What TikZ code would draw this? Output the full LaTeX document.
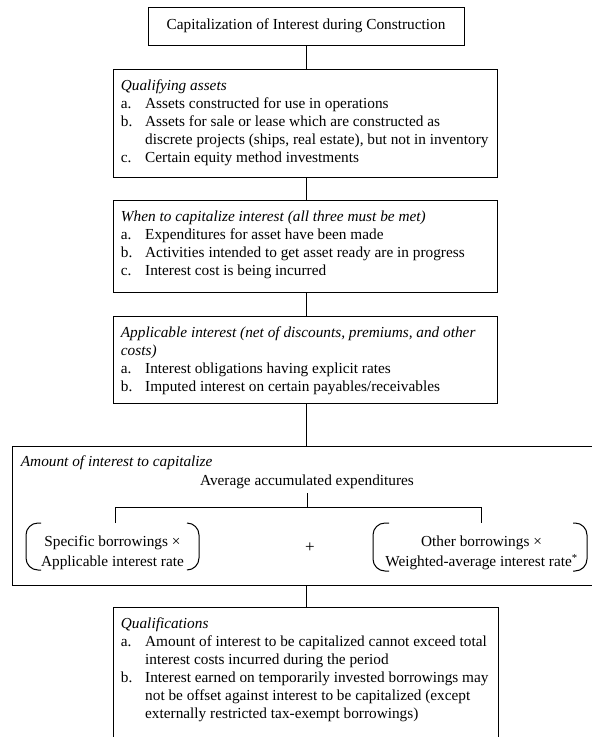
\documentclass[tikz,border=0pt]{standalone}
\usepackage{fontspec}
\setmainfont{Liberation Serif}
\usetikzlibrary{calc}
\newcommand{\bodyfont}{\fontsize{15.3}{18}\selectfont}
\newcommand{\grpfont}{\fontsize{15.3}{20}\selectfont}
\tikzset{
  frame/.style={draw, line width=1pt, inner sep=0pt, anchor=north west},
  txt/.style={inner sep=0pt, anchor=north west, font=\bodyfont},
  grp/.style={inner sep=0pt, anchor=north, font=\grpfont},
  conn/.style={line width=1pt},
  brk/.style={line width=1pt, rounded corners=12pt}
}
\begin{document}
\begin{tikzpicture}[x=1pt, y=-1pt, font=\bodyfont]
\clip (0,0) rectangle (592,737);
\fill[white] (0,0) rectangle (592,737);

% top box
\node[draw, line width=1pt, minimum width=316pt, minimum height=38pt, inner sep=0pt] (top) at (306,26) {Capitalization of Interest during Construction};

% qualifying assets
\node[frame, minimum width=384pt, minimum height=108pt] (qual) at (113,69) {};
\node[txt] (qualtxt) at (120.7,78) {\begin{tabular}{@{}p{24.3pt}@{}l@{}}
\multicolumn{2}{@{}l@{}}{\textit{Qualifying assets}}\\
a.& Assets constructed for use in operations\\
b.& Assets for sale or lease which are constructed as\\
  & discrete projects (ships, real estate), but not in inventory\\
c.& Certain equity method investments
\end{tabular}};

% when to capitalize
\node[frame, minimum width=384pt, minimum height=92pt] (when) at (113,200) {};
\node[txt] (whentxt) at (120.7,209) {\begin{tabular}{@{}p{24.3pt}@{}l@{}}
\multicolumn{2}{@{}l@{}}{\textit{When to capitalize interest (all three must be met)}}\\
a.& Expenditures for asset have been made\\
b.& Activities intended to get asset ready are in progress\\
c.& Interest cost is being incurred
\end{tabular}};

% applicable interest
\node[frame, minimum width=384pt, minimum height=87pt] (appl) at (113,316) {};
\node[txt] (appltxt) at (120.7,324.5) {\begin{tabular}{@{}p{24.3pt}@{}l@{}}
\multicolumn{2}{@{}l@{}}{\textit{Applicable interest (net of discounts, premiums, and other}}\\
\multicolumn{2}{@{}l@{}}{\textit{costs)}}\\
a.& Interest obligations having explicit rates\\
b.& Imputed interest on certain payables/receivables
\end{tabular}};

% amount of interest
\node[frame, minimum width=600pt, minimum height=138.5pt] (amount) at (12,446) {};
\node[inner sep=0pt, anchor=base west] (amttitle) at (20.7,466.5) {\textit{Amount of interest to capitalize}};
\node[inner xsep=0pt, inner ysep=4pt, anchor=base] (avg) at (307,485.5) {Average accumulated expenditures};
\coordinate (hl) at (115,507.5);
\coordinate (hr) at (481,507.5);
\coordinate (tickL) at (115,523);
\coordinate (tickR) at (481,523);
\draw[conn] (avg.south) -- (avg.south |- hl);
\draw[conn] (tickL) -- (hl) -- (hr) -- (tickR);

\node[grp] (spec) at (112.5,532.7) {\begin{tabular}{@{}c@{}}Specific borrowings ×\\Applicable interest rate\end{tabular}};
\node[grp] (other) at (481.5,532.5) {\begin{tabular}{@{}c@{}}Other borrowings ×\\Weighted-average interest rate\textsuperscript{*}\end{tabular}};
\node[inner sep=0pt, font=\fontsize{17}{20}\selectfont] (plus) at (310,548) {+};

% brackets
\draw[brk] (41,523) -- (26,523) -- (26,570) -- (41,570);
\draw[brk] (187,523) -- (199,523) -- (199,570) -- (187,570);
\draw[brk] (389,523) -- (373,523) -- (373,571) -- (389,571);
\draw[brk] (573,523) -- (587,523) -- (587,571) -- (573,571);

% qualifications
\node[frame, minimum width=385pt, minimum height=160pt] (quals) at (113,607) {};
\node[txt] (qualstxt) at (120.7,616) {\begin{tabular}{@{}p{24.3pt}@{}l@{}}
\multicolumn{2}{@{}l@{}}{\textit{Qualifications}}\\
a.& Amount of interest to be capitalized cannot exceed total\\
  & interest costs incurred during the period\\
b.& Interest earned on temporarily invested borrowings may\\
  & not be offset against interest to be capitalized (except\\
  & externally restricted tax-exempt borrowings)
\end{tabular}};

% connectors
\draw[conn] (top.south) -- (top.south |- qual.north);
\draw[conn] (top.south |- qual.south) -- (top.south |- when.north);
\draw[conn] (top.south |- when.south) -- (top.south |- appl.north);
\draw[conn] (top.south |- appl.south) -- (top.south |- amount.north);
\draw[conn] (top.south |- amount.south) -- (top.south |- quals.north);
\end{tikzpicture}
\end{document}
